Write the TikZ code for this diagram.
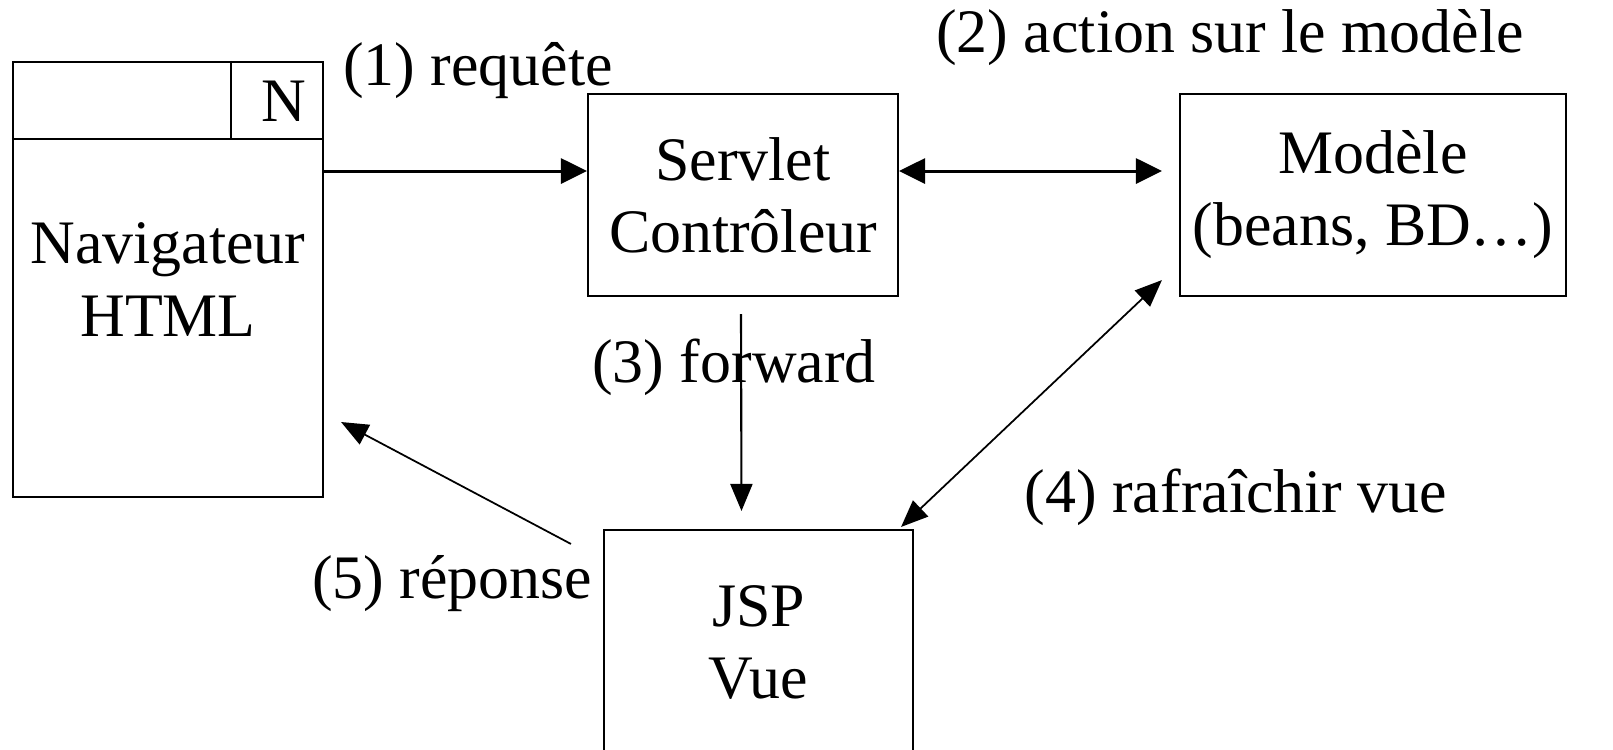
\documentclass[tikz,border=0pt]{standalone}
\usepackage{fontspec}
\setmainfont{Liberation Serif}
\usetikzlibrary{arrows.meta, positioning, calc}

\begin{document}
\begin{tikzpicture}[
  block/.style = {draw, line width=0.6pt, align=center, inner sep=0pt},
  lbl/.style = {anchor=base, inner sep=0pt},
  arrow/.style = {line width=0.85pt, -{Triangle[length=0.26cm, width=0.25cm]}},
  biarrow/.style = {line width=0.85pt, {Triangle[length=0.26cm, width=0.25cm]}-{Triangle[length=0.26cm, width=0.25cm]}},
  thinarrow/.style = {line width=0.5pt, -{Triangle[length=0.27cm, width=0.22cm]}},
  thinbiarrow/.style = {line width=0.5pt, {Triangle[length=0.27cm, width=0.22cm]}-{Triangle[length=0.27cm, width=0.22cm]}},
  font=\fontsize{17.6pt}{20.5pt}\selectfont
]
  \useasboundingbox (0,0) rectangle (16.13,7.49);

  % Navigateur (fenetre avec barre de titre)
  \node[block, minimum width=3.10cm, minimum height=4.35cm] (nav) at (1.68,4.695) {Navigateur\\HTML};
  \draw[line width=0.6pt] ([yshift=-0.78cm]nav.north west) -- ([yshift=-0.78cm]nav.north east);
  \draw[line width=0.6pt] ([xshift=-0.93cm]nav.north east) -- ++(0,-0.78);
  \node[inner sep=0pt] (navN) at ([xshift=-0.40cm, yshift=-0.40cm]nav.north east) {N};

  % Servlet
  \node[block, minimum width=3.10cm, minimum height=2.02cm] (servlet) at (7.43,5.54) {Servlet\\Contrôleur};

  % Modele
  \node[block, minimum width=3.86cm, minimum height=2.02cm] (modele) at (13.73,5.54) {Modèle\\(beans, BD…)};

  % JSP
  \node[block, minimum width=3.09cm, minimum height=2.24cm] (jsp) at (7.585,1.07) {JSP\\Vue};

  % (1) requete
  \coordinate (reqin) at ([yshift=0.24cm]servlet.west);
  \draw[arrow] (nav.east |- reqin) -- (reqin);
  \node[lbl] (req) at (4.78,6.64) {(1) requête};

  % (2) action sur le modele
  \draw[biarrow] ([yshift=0.24cm]servlet.east) -- ([xshift=-0.17cm, yshift=0.24cm]modele.west);
  \node[lbl] (action) at (12.30,6.97) {(2) action sur le modèle};

  % (3) forward
  \draw[thinarrow, line width=0.6pt] ([xshift=-0.02cm, yshift=-0.17cm]servlet.south) -- ([xshift=-0.17cm, yshift=0.18cm]jsp.north);
  \node[lbl] (fwd) at (7.34,3.67) {(3) forward};

  % (4) rafraichir vue
  \draw[thinbiarrow] ([xshift=-0.17cm, yshift=0.17cm]modele.south west) -- ([xshift=-0.13cm, yshift=0.02cm]jsp.north east);
  \node[lbl] (refresh) at (12.36,2.37) {(4) rafraîchir vue};

  % (5) reponse
  \draw[thinarrow] ([xshift=-0.32cm, yshift=-0.15cm]jsp.north west) -- ([xshift=0.17cm]nav.east |- 0,3.27);
  \node[lbl] (rep) at (4.52,1.51) {(5) réponse};

\end{tikzpicture}
\end{document}
